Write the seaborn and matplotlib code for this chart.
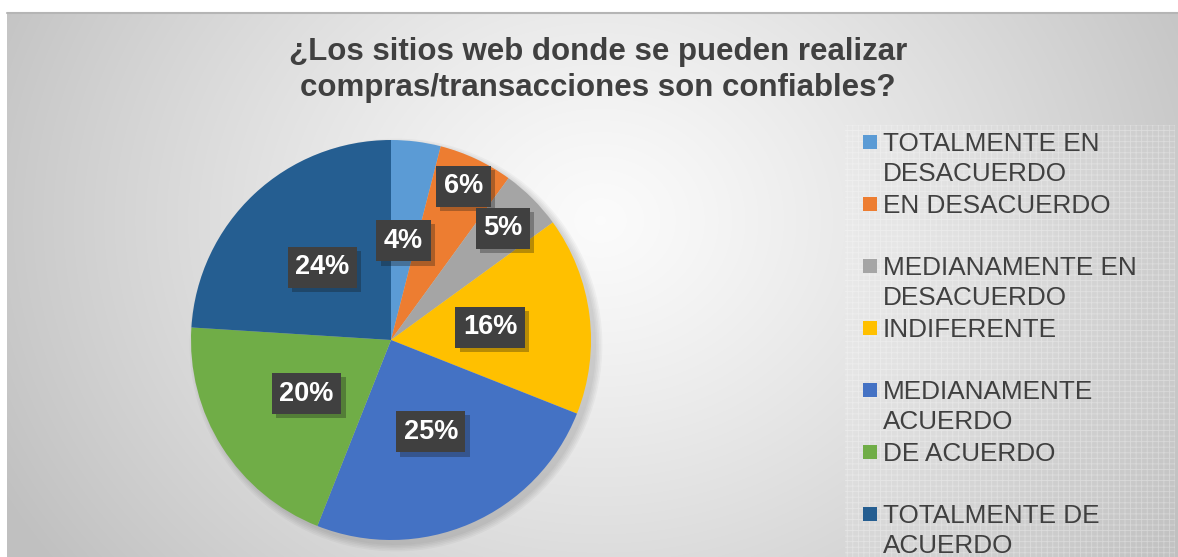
import numpy as np
import matplotlib
matplotlib.use('Agg')
import matplotlib.pyplot as plt
import matplotlib.patches as mpatches
import matplotlib.patheffects as pe
import seaborn as sns

# datos del grafico
categorias = ['TOTALMENTE EN\nDESACUERDO', 'EN DESACUERDO', 'MEDIANAMENTE EN\nDESACUERDO',
              'INDIFERENTE', 'MEDIANAMENTE\nACUERDO', 'DE ACUERDO', 'TOTALMENTE DE\nACUERDO']
porcentajes = [4, 6, 5, 16, 25, 20, 24]
etiquetas = ['4%', '6%', '5%', '16%', '25%', '20%', '24%']
colores = ['#5B9BD5', '#ED7D31', '#A5A5A5', '#FFC000', '#4472C4', '#70AD47', '#255E91']
titulo = '¿Los sitios web donde se pueden realizar\ncompras/transacciones son confiables?'

sns.set_theme(style='white')
plt.rcParams['font.family'] = ['Liberation Sans', 'DejaVu Sans']
plt.rcParams['hatch.linewidth'] = 0.6
paleta = sns.color_palette(colores)

W, H = 1178, 557
fig = plt.figure(figsize=(W / 100, H / 100), dpi=100)
fig.patch.set_facecolor('white')

# fondo gris con degradado radial (coordenadas en pixeles)
bg = fig.add_axes([0, 0, 1, 1], zorder=0)
top, left = 12, 7
yy, xx = np.mgrid[top:H, left:W]
d = np.sqrt((xx - 600.0) ** 2 + ((yy - 220.0) / 0.85) ** 2)
g = np.clip(d / 680, 0, 1)
val = 0.985 - 0.23 * g ** 1.2
bg.imshow(np.dstack([val] * 3), extent=(left, W, H, top), aspect='auto', interpolation='bilinear')
bg.plot([left, W], [top + 0.5, top + 0.5], color='#b5b5b5', lw=1.5)
bg.add_patch(mpatches.Rectangle((845, 125), 330, H - 125, facecolor=(1, 1, 1, 0.04),
                                edgecolor=(1, 1, 1, 0.3), hatch='+++', lw=0))
bg.set_xlim(0, W)
bg.set_ylim(H, 0)
bg.axis('off')

# titulo
bg.text(598, 70, titulo, ha='center', va='center', fontsize=22.5, fontweight='bold',
        color='#404040', linespacing=1.22)

# leyenda
y0, dy = 141.5, 62
for i, (lab, col) in enumerate(zip(categorias, paleta)):
    y = y0 + i * dy
    bg.add_patch(mpatches.Rectangle((863, y - 7), 14, 14, facecolor=col, lw=0))
    for j, linea in enumerate(lab.split('\n')):
        bg.text(883, y + 9.5 + j * 30, linea, fontsize=18.8, color='#404040',
                va='baseline', ha='left')

# pastel
R, cx, cy = 200, 391, 340
ax = fig.add_axes([(cx - R) / W, (H - cy - R) / H, 2 * R / W, 2 * R / H], zorder=2)
for k in range(5):
    ax.add_patch(mpatches.Circle((0.025, -0.025), 1 + 0.008 * k, facecolor='black',
                                 alpha=0.03, lw=0, clip_on=False))
wedges, _ = ax.pie(porcentajes, colors=paleta, startangle=90, counterclock=False,
                   radius=1, wedgeprops=dict(linewidth=0))
ax.set_xlim(-1, 1)
ax.set_ylim(-1, 1)
ax.set_aspect('equal')

distancias = [0.5, 0.85, 0.79, 0.5, 0.5, 0.5, 0.5]
for w, txt, r in zip(wedges, etiquetas, distancias):
    ang = np.deg2rad((w.theta1 + w.theta2) / 2)
    x, y = r * np.cos(ang), r * np.sin(ang)
    t = ax.text(x, y, txt, fontsize=19.5, fontweight='bold', color='white', ha='center', va='center',
                bbox=dict(boxstyle='square,pad=0.28', fc='#404040', ec='none'))
    t.get_bbox_patch().set_path_effects([pe.SimplePatchShadow(offset=(3, -3), alpha=0.3),
                                         pe.Normal()])

fig.savefig('out.png', dpi=100)
